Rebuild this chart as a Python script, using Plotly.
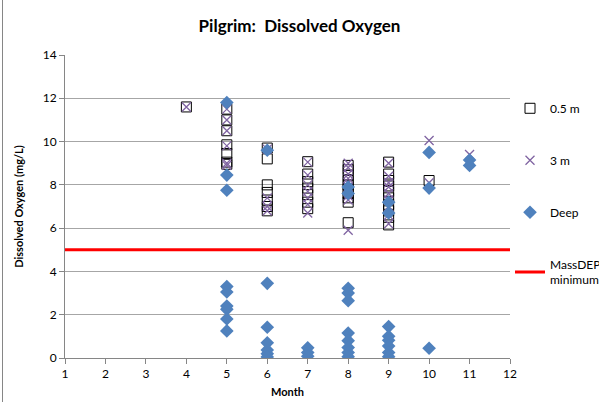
import plotly.graph_objects as go

# ---- data ----
months_05 = [4, 5, 5, 5, 5, 5, 5, 5,
             6, 6, 6, 6, 6, 6, 6,
             7, 7, 7, 7, 7, 7, 7,
             8, 8, 8, 8, 8, 8, 8, 8, 8, 8,
             9, 9, 9, 9, 9, 9, 9, 9, 9, 9,
             10]
do_05 = [11.6, 11.5, 11.0, 10.5, 9.85, 9.45, 9.05, 8.95,
         9.7, 9.2, 8.0, 7.65, 7.3, 7.0, 6.8,
         9.07, 8.5, 8.15, 7.85, 7.55, 7.2, 6.9,
         8.9, 8.7, 8.45, 8.2, 8.0, 7.8, 7.6, 7.4, 7.2, 6.25,
         9.05, 8.5, 8.2, 7.95, 7.7, 7.4, 7.1, 6.8, 6.5, 6.15,
         8.2]

months_3 = [4, 5, 5, 5, 5, 5, 5,
            6, 6, 6, 6,
            7, 7, 7, 7, 7, 7, 7,
            8, 8, 8, 8, 8, 8, 8, 8, 8, 8,
            9, 9, 9, 9, 9, 9, 9, 9, 9,
            10, 10, 11]
do_3 = [11.6, 11.5, 11.0, 10.5, 9.8, 9.0, 8.9,
        9.65, 7.4, 7.0, 6.8,
        9.05, 8.45, 8.0, 7.7, 7.4, 7.1, 6.7,
        9.0, 8.8, 8.5, 8.3, 8.1, 7.9, 7.7, 7.5, 7.3, 5.9,
        9.0, 8.4, 8.1, 7.9, 7.6, 7.3, 7.0, 6.6, 6.2,
        10.05, 8.1, 9.4]

months_deep = [5, 5, 5, 5, 5, 5, 5, 5, 5,
               6, 6, 6, 6, 6, 6, 6,
               7, 7, 7,
               8, 8, 8, 8, 8, 8, 8, 8, 8, 8,
               9, 9, 9, 9, 9, 9, 9, 9,
               10, 10, 10,
               11, 11]
do_deep = [11.8, 8.45, 7.75, 3.3, 3.05, 2.4, 2.25, 1.8, 1.25,
           9.6, 3.45, 1.42, 0.7, 0.37, 0.2, 0.05,
           0.47, 0.25, 0.08,
           7.9, 7.6, 3.22, 3.0, 2.65, 1.15, 0.8, 0.48, 0.25, 0.06,
           7.2, 6.7, 1.45, 1.0, 0.82, 0.55, 0.25, 0.06,
           9.5, 7.85, 0.45,
           9.15, 8.9]

min_x = [1, 12]
min_y = [5, 5]

x_ticks = list(range(1, 13))
y_ticks = list(range(0, 15, 2))

FONT = "Lato, 'Liberation Sans', sans-serif"

fig = go.Figure()
fig.add_trace(go.Scatter(
    x=months_05, y=do_05, mode="markers", name="0.5 m", legendgroup="a",
    marker=dict(symbol="square-open", size=10, color="black", line=dict(width=1, color="black")),
))
fig.add_trace(go.Scatter(
    x=months_3, y=do_3, mode="markers", name="3 m", legendgroup="b",
    marker=dict(symbol="x-thin-open", size=9, color="#8064A2", line=dict(width=1.3, color="#8064A2")),
))
fig.add_trace(go.Scatter(
    x=months_deep, y=do_deep, mode="markers", name="Deep", legendgroup="c",
    marker=dict(symbol="diamond", size=10.5, color="#4F81BD", line=dict(width=0)),
))
fig.add_trace(go.Scatter(
    x=min_x, y=min_y, mode="lines", name="MassDEP<br>minimum", legendgroup="d",
    line=dict(color="#FF0000", width=3),
))

fig.update_layout(
    width=599, height=402,
    margin=dict(l=65, r=89, t=55, b=44, autoexpand=False),
    paper_bgcolor="white", plot_bgcolor="white",
    font=dict(family=FONT, size=12, color="black"),
    title=dict(text="<b>Pilgrim:  Dissolved Oxygen</b>", x=0.5, xanchor="center",
               xref="container", y=0.935, yanchor="middle",
               font=dict(family=FONT, size=17, color="black")),
    showlegend=True,
    legend=dict(x=1.0, xanchor="left", y=0.872, yanchor="top",
                traceorder="grouped", tracegroupgap=33,
                font=dict(family=FONT, size=12, color="black"),
                itemwidth=30, bgcolor="rgba(0,0,0,0)"),
    xaxis=dict(range=[1, 12], tickvals=x_ticks, ticktext=[str(v) for v in x_ticks],
               showgrid=False, zeroline=False, showline=True, linecolor="#868686", linewidth=1,
               ticks="outside", ticklen=5, tickcolor="#868686",
               tickfont=dict(family=FONT, size=12),
               title=dict(text="<b>Month</b>", font=dict(family=FONT, size=11), standoff=7)),
    yaxis=dict(range=[0, 14], tickvals=y_ticks, ticktext=[str(v) for v in y_ticks],
               showgrid=True, gridcolor="#A6A6A6", gridwidth=1, zeroline=False,
               showline=True, linecolor="#868686", linewidth=1,
               ticks="outside", ticklen=5, tickcolor="#868686",
               tickfont=dict(family=FONT, size=12),
               title=dict(text="<b>Dissolved Oxygen (mg/L)</b>", font=dict(family=FONT, size=11), standoff=16)),
)

# chart-area border on the left edge
fig.add_shape(type="line", xref="paper", yref="paper",
              x0=(2.5 - 65) / 445, x1=(2.5 - 65) / 445, y0=(358 - 0) / 303, y1=(358 - 402) / 303,
              line=dict(color="#868686", width=1))

fig.write_html("out.html", config={"displayModeBar": False},
               post_script="document.body.style.margin='0';document.body.style.overflow='hidden';")
